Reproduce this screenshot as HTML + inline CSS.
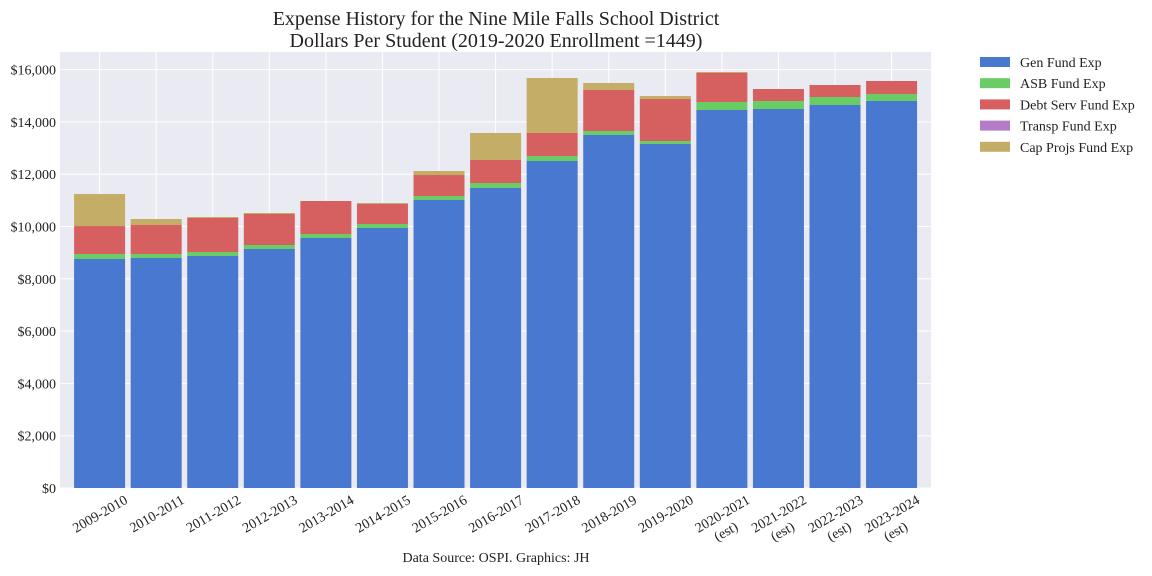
<!DOCTYPE html>
<html><head><meta charset="utf-8"><style>
body{margin:0;background:#fff;}
svg{display:block;font-family:"Liberation Serif",serif;}
</style></head><body>
<svg id="chart" width="1152" height="576" viewBox="0 0 1152 576">
<rect x="60" y="52" width="871" height="436" fill="#eaeaf2"/>
<g id="grid"></g>
<g id="bars"></g>
<g id="yt"></g>
<g id="xt"></g>
<text x="496" y="25" text-anchor="middle" font-size="20" fill="#222">Expense History for the Nine Mile Falls School District</text>
<text x="496" y="47" text-anchor="middle" font-size="20" fill="#222">Dollars Per Student (2019-2020 Enrollment =1449)</text>
<text x="496" y="562" text-anchor="middle" font-size="14" fill="#222">Data Source: OSPI. Graphics: JH</text>
<g id="legend"></g>
</svg>
<script>
const categories=["2009-2010","2010-2011","2011-2012","2012-2013","2013-2014","2014-2015","2015-2016","2016-2017","2017-2018","2018-2019","2019-2020","2020-2021\n(est)","2021-2022\n(est)","2022-2023\n(est)","2023-2024\n(est)"];
const genFund=[8757,8795,8872,9140,9560,9943,11013,11472,12505,13499,13155,14455,14493,14646,14799];
const asbFund=[190,153,153,153,153,153,153,191,191,153,115,306,306,306,268];
const debtFund=[1070,1109,1300,1185,1262,764,803,880,880,1568,1606,1109,459,459,497];
const transpFund=[0,0,0,0,0,0,0,0,0,0,0,0,0,0,0];
const capFund=[1224,230,38,38,0,38,153,1033,2103,268,114,38,0,0,0];
const seriesNames=["Gen Fund Exp","ASB Fund Exp","Debt Serv Fund Exp","Transp Fund Exp","Cap Projs Fund Exp"];
const yTicks=[0,2000,4000,6000,8000,10000,12000,14000,16000];
const colors=["#4878cf","#6acc65","#d65f5f","#b47cc7","#c4ad66"];
const NS="http://www.w3.org/2000/svg";
const series=[genFund,asbFund,debtFund,transpFund,capFund];
const y=v=>488-v*0.02615;
const x=i=>60+(i+0.7)*56.57;
function mk(t,a,p){const e=document.createElementNS(NS,t);for(const k in a)e.setAttribute(k,a[k]);p.appendChild(e);return e;}
const grid=document.getElementById('grid'),bars=document.getElementById('bars'),yt=document.getElementById('yt'),xt=document.getElementById('xt'),lg=document.getElementById('legend');
yTicks.forEach(v=>{
 const l=mk('line',{x1:60,x2:931,y1:y(v),y2:y(v),stroke:'#fff','stroke-width':1},grid);
 
 
 const t=mk('text',{x:56,y:y(v)+5,'text-anchor':'end','font-size':14,fill:'#222'},yt);
 t.textContent='$'+v.toLocaleString('en-US');
 
 
});
categories.forEach((c,i)=>{
 const l=mk('line',{x1:x(i),x2:x(i),y1:52,y2:488,stroke:'#fff','stroke-width':1},grid);
 
 
 let base=0;
 series.forEach((s,k)=>{
  if(s[i]>0){
   const r=mk('rect',{x:x(i)-25.5,width:51,y:y(base+s[i]),height:s[i]*0.02615,fill:colors[k]},bars);
   
   
  }
  base+=s[i];
 });
 const g=mk('g',{transform:`translate(${x(i)+24},494) rotate(-30)`},xt);
 
 
 const lines=c.split('\n');
 const t1=mk('text',{x:0,y:10,'text-anchor':'end','font-size':14,fill:'#222'},g);
 t1.textContent=lines[0];
 if(lines[1]){const t2=mk('text',{x:-36,y:27,'text-anchor':'middle','font-size':14,fill:'#222'},g);t2.textContent=lines[1];}
});
seriesNames.forEach((n,k)=>{
 const yy=62+k*21.2;
 const r=mk('rect',{x:980,y:yy-5,width:30,height:10,fill:colors[k]},lg);
 
 
 const t=mk('text',{x:1020,y:yy+5,'font-size':14,fill:'#222'},lg);
 t.textContent=n;
 
 
});
</script>
</body></html>
